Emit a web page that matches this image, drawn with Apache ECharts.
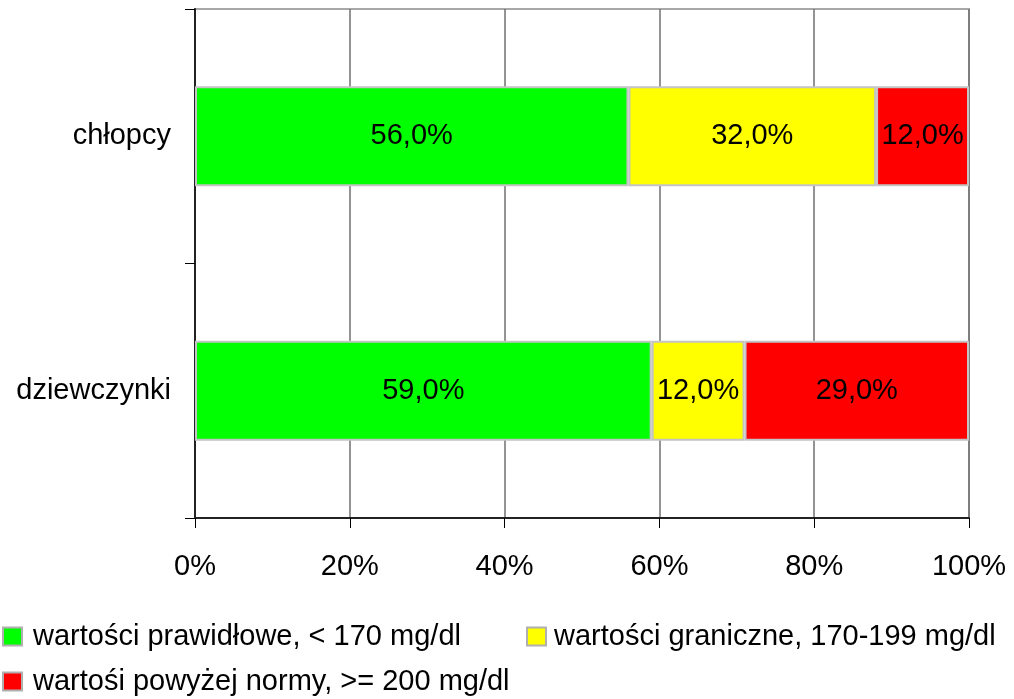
<!DOCTYPE html>
<html>
<head>
<meta charset="utf-8">
<script src="https://cdn.jsdelivr.net/npm/echarts@6/dist/echarts.min.js"></script>
<style>
  html, body { margin: 0; padding: 0; background: #fff; }
  #chart { width: 1014px; height: 699px; }
</style>
</head>
<body>
<div id="chart"></div>
<script>
// Cholesterol level groups by sex (percent of each group)
const categories = ['chłopcy', 'dziewczynki'];
const seriesNames = [
  'wartości prawidłowe, < 170 mg/dl',
  'wartości graniczne, 170-199 mg/dl',
  'wartośi powyżej normy, >= 200 mg/dl'
];
const normalValues = [56.0, 59.0];
const borderlineValues = [32.0, 12.0];
const highValues = [12.0, 29.0];
const seriesColors = ['#00ff00', '#ffff00', '#ff0000'];
const xTicks = [0, 20, 40, 60, 80, 100];

const FONT = '"Liberation Sans", Arial, sans-serif';
const FONT_SIZE = 29;

function barSeries(name, values, color) {
  return {
    name: name,
    type: 'bar',
    stack: 'total',
    barWidth: 100,
    data: values,
    itemStyle: { color: color, borderColor: '#c4c4c4', borderWidth: 2 },
    label: {
      show: true,
      position: 'inside',
      color: '#000',
      fontFamily: FONT,
      fontSize: FONT_SIZE,
      formatter: p => p.value.toFixed(1).replace('.', ',') + '%'
    }
  };
}

const chart = echarts.init(document.getElementById('chart'), null, { renderer: 'canvas' });
chart.setOption({
  animation: false,
  backgroundColor: '#fff',
  grid: {
    left: 195, right: 45, top: 9, bottom: 181,
    show: true, borderColor: '#a8a8a8', borderWidth: 2, backgroundColor: 'transparent'
  },
  xAxis: {
    type: 'value',
    min: xTicks[0],
    max: xTicks[xTicks.length - 1],
    interval: 20,
    axisLine: { show: true, lineStyle: { color: '#222', width: 2 } },
    axisTick: { show: true, length: 10, lineStyle: { color: '#000', width: 1 } },
    axisLabel: {
      margin: 34,
      color: '#000', fontFamily: FONT, fontSize: FONT_SIZE,
      formatter: v => v + '%'
    },
    splitLine: { show: true, lineStyle: { color: '#707070', width: 1.5 } }
  },
  yAxis: {
    type: 'category',
    inverse: true,
    data: categories,
    axisLine: { show: true, lineStyle: { color: '#222', width: 2 } },
    axisTick: { show: true, length: 10, lineStyle: { color: '#000', width: 1 } },
    axisLabel: { margin: 24, color: '#000', fontFamily: FONT, fontSize: FONT_SIZE },
    splitLine: { show: false }
  },
  legend: [
    { left: 2, top: 622, pad: 6 },
    { left: 526, top: 622, pad: 3 },
    { left: 2, top: 667, pad: 6 }
  ].map((pos, i) => ({
    left: pos.left, top: pos.top,
    orient: 'horizontal',
    data: [seriesNames[i]],
    icon: 'rect',
    itemWidth: 19, itemHeight: 18, itemGap: 10,
    padding: 0,
    itemStyle: { borderColor: '#b0b0b0', borderWidth: 2 },
    textStyle: { color: '#000', fontFamily: FONT, fontSize: FONT_SIZE, padding: [0, 0, 0, pos.pad] }
  })),
  series: [
    barSeries(seriesNames[0], normalValues, seriesColors[0]),
    barSeries(seriesNames[1], borderlineValues, seriesColors[1]),
    barSeries(seriesNames[2], highValues, seriesColors[2])
  ]
});
</script>
</body>
</html>
